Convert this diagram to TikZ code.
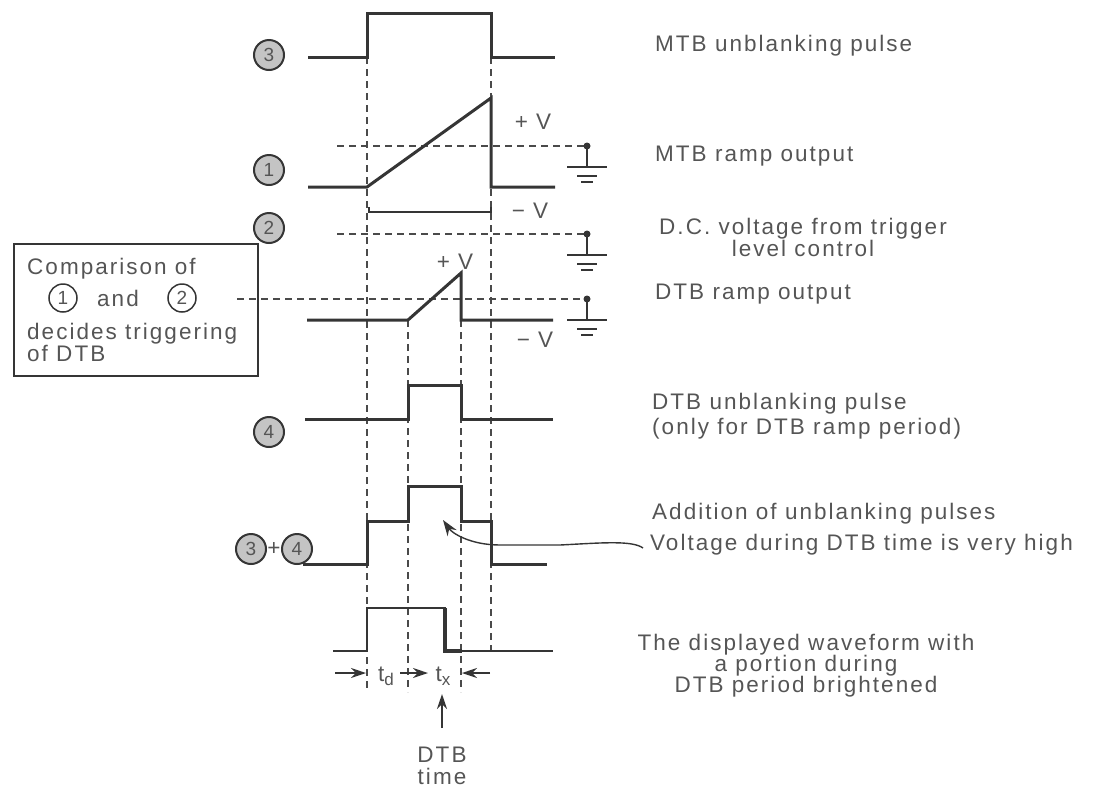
\documentclass[tikz,border=0pt]{standalone}
\usepackage{fontspec}
\setmainfont{Liberation Sans}[LetterSpace=9]
\newfontfamily\plainsans{Liberation Sans}
\usetikzlibrary{arrows.meta}
\definecolor{ink}{HTML}{353535}
\definecolor{txt}{HTML}{555555}
\definecolor{dsh}{HTML}{4A4A4A}
\definecolor{cfill}{HTML}{C4C4C4}
\begin{document}
\begin{tikzpicture}[x=1pt,y=-1pt,
  wave/.style={draw=ink,line width=3pt,line join=miter},
  guide/.style={draw=dsh,line width=1.3pt,dash pattern=on 7pt off 5pt},
  lbl/.style={text=txt,font=\fontsize{22.5}{26}\selectfont,inner sep=0pt},
  num/.style={circle,draw=ink,fill=cfill,line width=2pt,minimum size=30pt,inner sep=0pt,text=txt,font=\plainsans\fontsize{19}{19}\selectfont},
  onum/.style={circle,draw=ink,line width=1.5pt,minimum size=28pt,inner sep=0pt,text=txt,font=\plainsans\fontsize{19}{19}\selectfont},
  tip/.style={-{Stealth[length=15pt,width=10pt]}},
  gnd/.pic={
    \fill[ink] (0,0) circle (3.5);
    \draw[ink,line width=1.8pt] (0,0) -- (0,21);
    \draw[ink,line width=1.8pt] (-20,21) -- (20,21);
    \draw[ink,line width=1.8pt] (-10,30) -- (10,30);
    \draw[ink,line width=1.8pt] (-6,36) -- (6,36);
  }]
\useasboundingbox (0,0) rectangle (1112,788);

% ---- vertical guides
\draw[guide] (367,57) -- (367,692);
\draw[guide] (491,57) -- (491,656);
\draw[guide] (408,320) -- (408,692);
\draw[guide] (461,320) -- (461,692);

% ---- ground references
\coordinate (g1) at (587,146);
\coordinate (g2) at (587,234);
\coordinate (g3) at (587,299);
\coordinate (h1) at (337,146);
\coordinate (h2) at (337,234);
\coordinate (h3) at (237,299);
\draw[guide] (h1) -- (g1);
\draw[guide] (h2) -- (g2);
\draw[guide] (h3) -- (g3);
\pic at (g1) {gnd};
\pic at (g2) {gnd};
\pic at (g3) {gnd};

% ---- waveforms
\draw[wave] (308,57) -- (367,57) -- (367,13) -- (491,13) -- (491,57) -- (555,57);
\draw[wave] (308,187) -- (367,187) -- (491,98) -- (491,187) -- (555,187);
\draw[wave,line width=2.4pt] (369,207) -- (369,212) -- (491,212) -- (491,207);
\draw[wave] (307,320) -- (408,320) -- (461,273) -- (461,320) -- (553,320);
\draw[wave] (305,419) -- (408,419) -- (408,385) -- (461,385) -- (461,419) -- (553,419);
\draw[wave] (303,564) -- (367,564) -- (367,521) -- (408,521) -- (408,486) -- (461,486) -- (461,521) -- (491,521) -- (491,564) -- (547,564);
\draw[ink,line width=1.8pt] (333,651) -- (367,651) -- (367,608) -- (445,608) -- (445,651) -- (553,651);
\draw[ink,line width=3.2pt] (445,608) -- (445,651) -- (462,651);

% ---- numbered circles
\node[num] (n3) at (269,55) {3};
\node[num] (n1) at (269,170) {1};
\node[num] (n2) at (269,228) {2};
\node[num] (n4) at (269,432) {4};
\node[num] (s3) at (251,549) {3};
\node[lbl] (plus) at (274,549) {+};
\node[num] (s4) at (297,549) {4};

% ---- voltage labels
\node[lbl] (pv1) at (533,122) {+ V};
\node[lbl] (mv1) at (530,211) {− V};
\node[lbl] (pv2) at (455,262) {+ V};
\node[lbl] (mv2) at (535,340) {− V};

% ---- comparison box
\node[draw=ink,line width=2pt,minimum width=244pt,minimum height=132pt,anchor=north west,inner sep=0pt] (box) at (13,243) {};
\node[lbl,anchor=base west] (b1) at (27,274) {Comparison of};
\node[onum] (c1) at (63,298) {1};
\node[lbl,anchor=base west] (band) at (97,306) {and};
\node[onum] (c2) at (182,298) {2};
\node[lbl,anchor=base west] (b3) at (27,339) {decides triggering};
\node[lbl,anchor=base west] (b4) at (27,361) {of DTB};

% ---- right labels
\node[lbl,anchor=base west] (l1) at (655,51) {MTB unblanking pulse};
\node[lbl,anchor=base west] (l2) at (655,161) {MTB ramp output};
\node[lbl,anchor=base] (l3a) at (803,234) {D.C. voltage from trigger};
\node[lbl,anchor=base] (l3b) at (803,256) {level control};
\node[lbl,anchor=base west] (l4) at (655,299) {DTB ramp output};
\node[lbl,anchor=base west] (l5a) at (652,409) {DTB unblanking pulse};
\node[lbl,anchor=base west] (l5b) at (652,434) {(only for DTB ramp period)};
\node[lbl,anchor=base west] (l6) at (652,519) {Addition of unblanking pulses};
\node[lbl,anchor=base west] (l7) at (650,550) {Voltage during DTB time is very high};
\node[lbl,anchor=base] (l8a) at (806,650) {The displayed waveform with};
\node[lbl,anchor=base] (l8b) at (806,671) {a portion during};
\node[lbl,anchor=base] (l8c) at (806,692) {DTB period brightened};

% ---- curved pointer
\coordinate (cv) at (643,548);
\coordinate (ctip) at (443,520);
\draw[ink,line width=1.4pt,-{Stealth[length=16pt,width=11pt]}] (cv) .. controls (632,540) and (600,543) .. (560,545) -- (500,545) .. controls (470,545) and (452,533) .. (ctip);

% ---- time dimensions
\coordinate (d1a) at (335,673); \coordinate (d1b) at (366,673);
\coordinate (d2a) at (400,673); \coordinate (d2b) at (428,673);
\coordinate (d3a) at (490,673); \coordinate (d3b) at (462,673);
\draw[ink,line width=2pt,tip] (d1a) -- (d1b);
\draw[ink,line width=2pt,tip] (d2a) -- (d2b);
\draw[ink,line width=2pt,tip] (d3a) -- (d3b);
\node[lbl,anchor=base] (td) at (386,681) {t\raisebox{-0.4ex}{\fontsize{17}{17}\selectfont d}};
\node[lbl,anchor=base] (tx) at (443,681) {t\raisebox{-0.4ex}{\fontsize{17}{17}\selectfont x}};
\coordinate (up0) at (442,728);
\coordinate (up1) at (442,694);
\draw[ink,line width=2pt,tip] (up0) -- (up1);
\node[lbl,anchor=base] (dtb1) at (442,762) {DTB};
\node[lbl,anchor=base] (dtb2) at (442,784) {time};
\end{tikzpicture}
\end{document}
